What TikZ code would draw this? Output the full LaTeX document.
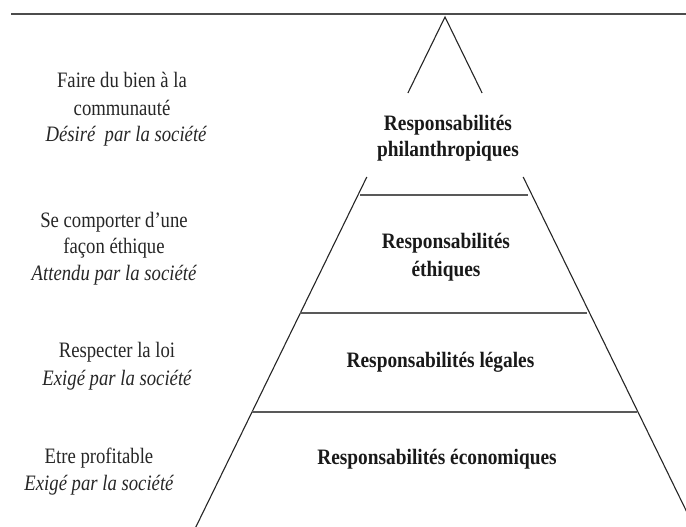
\documentclass[tikz,border=0pt]{standalone}
\usepackage{fontspec}
\usepackage{graphicx}
\setmainfont{Liberation Serif}
\newcommand\condL[1]{\scalebox{0.85}[1]{#1}}
\newcommand\condB[1]{\scalebox{0.88}[1]{#1}}
\begin{document}
\begin{tikzpicture}[x=1pt,y=-1pt,
  side/.style={line width=1.1pt, draw=black!85},
  divider/.style={line width=1.8pt, draw=black!65},
  topline/.style={line width=2pt, draw=black!70},
  leftlbl/.style={anchor=base, inner sep=0pt, font=\fontsize{22}{26}\selectfont, text=black!85},
  leftit/.style={anchor=base, inner sep=0pt, font=\fontsize{22}{26}\selectfont\itshape, text=black!85},
  lvl/.style={anchor=base, inner sep=0pt, font=\fontsize{22}{26}\selectfont\bfseries, text=black!90}]
\useasboundingbox (0,0) rectangle (686,527);
\clip (0,0) rectangle (686,527);

% top rule
\coordinate (tl) at (11,14.5);
\coordinate (tr) at (686,14.5);
\draw[topline] (tl) -- (tr);

% pyramid sides
\coordinate (apex) at (445,17);
\coordinate (l1) at (407.9,93);
\coordinate (r1) at (482.1,93);
\coordinate (l2) at (366.8,177);
\coordinate (r2) at (523.2,177);
\coordinate (lb) at (189.5,540);
\coordinate (rb) at (700.5,540);
\draw[side] (l1) -- (apex) -- (r1);
\draw[side] (l2) -- (lb);
\draw[side] (r2) -- (rb);

% dividers
\coordinate (d1l) at (360,195);
\coordinate (d1r) at (528,195);
\coordinate (d2l) at (300.4,313);
\coordinate (d2r) at (587,313);
\coordinate (d3l) at (252,412);
\coordinate (d3r) at (636.5,412);
\draw[divider] (d1l) -- (d1r);
\draw[divider] (d2l) -- (d2r);
\draw[divider] (d3l) -- (d3r);

% pyramid labels
\node[lvl] (p1a) at (448,131) {\condB{Responsabilités}};
\node[lvl] (p1b) at (448,157) {\condB{philanthropiques}};
\node[lvl] (p2a) at (446,248) {\condB{Responsabilités}};
\node[lvl] (p2b) at (446,276) {\condB{éthiques}};
\node[lvl] (p3)  at (440.5,367) {\condB{Responsabilités légales}};
\node[lvl] (p4)  at (437,464) {\condB{Responsabilités économiques}};

% left labels
\node[leftlbl] (a1) at (122,88) {\condL{Faire du bien à la}};
\node[leftlbl] (a2) at (122,115) {\condL{communauté}};
\node[leftit]  (a3) at (126,142) {\condL{Désiré\ \ par la société}};

\node[leftlbl] (b1) at (114,227) {\condL{Se comporter d’une}};
\node[leftlbl] (b2) at (114,253) {\condL{façon éthique}};
\node[leftit]  (b3) at (114,280) {\condL{Attendu par la société}};

\node[leftlbl] (c1) at (117,357) {\condL{Respecter la loi}};
\node[leftit]  (c2) at (117,385) {\condL{Exigé par la société}};

\node[leftlbl] (e1) at (99,463) {\condL{Etre profitable}};
\node[leftit]  (e2) at (99,490) {\condL{Exigé par la société}};
\end{tikzpicture}
\end{document}
